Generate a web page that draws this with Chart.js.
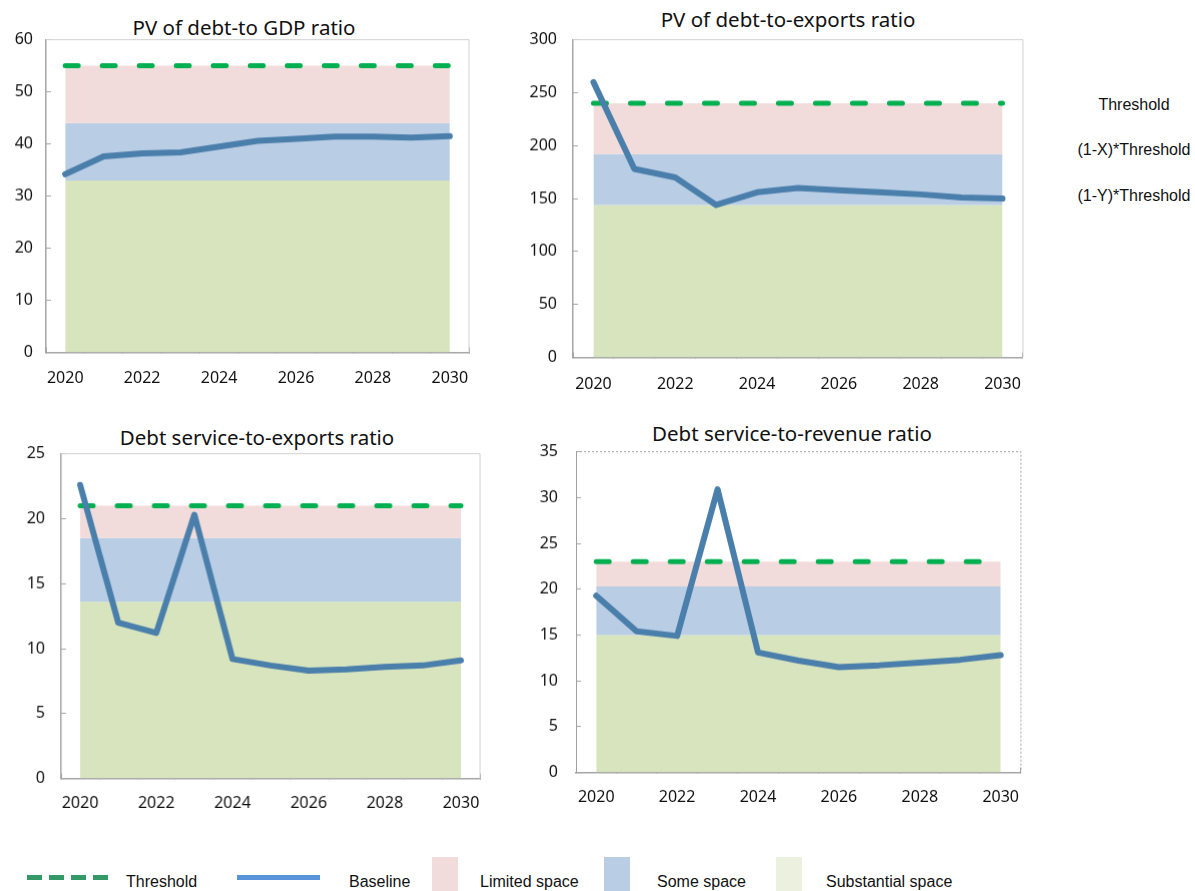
<!DOCTYPE html>
<html>
<head>
<meta charset="utf-8">
<script src="https://cdn.jsdelivr.net/npm/chart.js@4.4.0/dist/chart.umd.min.js"></script>
<style>
  body { margin: 0; background: #fff; }
  #wrap { position: relative; width: 1195px; height: 891px; overflow: hidden; background: #fff;
          font-family: "Liberation Sans", Arial, sans-serif; color: #111; }
  .panel { position: absolute; }
  .title { position: absolute; width: 400px; text-align: center; white-space: nowrap;
           font-family: "Noto Sans", "Open Sans", sans-serif; font-size: 20.5px; line-height: 24px; color: #111; }
  .side { position: absolute; width: 150px; text-align: center; font-size: 16px; line-height: 18px; }
  .lg { position: absolute; }
  .lgtext { position: absolute; font-size: 16px; line-height: 18px; white-space: nowrap; }
</style>
</head>
<body>
<div id="wrap"></div>
<script>
// years on the x axis
const years = ['2020', '2021', '2022', '2023', '2024', '2025', '2026', '2027', '2028', '2029', '2030'];

// baseline projections
const gdpBaseline = [34.2, 37.6, 38.2, 38.4, 39.5, 40.6, 41.0, 41.4, 41.4, 41.2, 41.5];
const exportsBaseline = [260, 178, 170, 144, 156, 160, 158, 156, 154, 151, 150];
const dsExportsBaseline = [22.6, 12.0, 11.2, 20.3, 9.2, 8.7, 8.3, 8.4, 8.6, 8.7, 9.1];
const dsRevenueBaseline = [19.3, 15.4, 14.9, 30.9, 13.1, 12.2, 11.5, 11.7, 12.0, 12.3, 12.8];

// threshold, (1-X)*threshold, (1-Y)*threshold
const gdpBands = [55, 44, 33];
const exportsBands = [240, 192, 144];
const dsExportsBands = [21, 18.5, 13.6];
const dsRevenueBands = [23, 20.3, 15];

// y axis ranges
const yMaxes = [60, 300, 25, 35];
const ySteps = [10, 50, 5, 5];

const titles = ['PV of debt-to GDP ratio', 'PV of debt-to-exports ratio',
                'Debt service-to-exports ratio', 'Debt service-to-revenue ratio'];

const colors = {
  limited: '#f2dcdb', some: '#b9cde5', substantial: '#d7e4bd',
  threshold: '#00b050', baseline: '#4a7eab'
};

const wrap = document.getElementById('wrap');
const font = '"Noto Sans", "Open Sans", sans-serif';

// draws the top and right edges of the plot box
const framePlugin = {
  id: 'frame',
  beforeDatasetsDraw(chart, args, opts) {
    const { ctx, chartArea: a } = chart;
    ctx.save();
    ctx.strokeStyle = opts.color;
    ctx.lineWidth = 1;
    ctx.setLineDash(opts.dash || []);
    ctx.beginPath();
    ctx.moveTo(a.left, a.top);
    ctx.lineTo(a.right, a.top);
    ctx.lineTo(a.right, a.bottom);
    ctx.stroke();
    ctx.restore();
  }
};

function makePanel(i, base, bands, box, dotted) {
  const yW = 50, padT = 4, pr = 4, xH = 45;
  let x0 = box.L - yW, y0 = box.T - 16;
  let W = box.R - x0 + 20;
  let H = box.B - y0 + xH;

  const t = document.createElement('div');
  t.className = 'title';
  t.textContent = titles[i];
  t.style.left = (box.tx - 200) + 'px';
  t.style.top = (box.ty - 12) + 'px';
  wrap.appendChild(t);

  const div = document.createElement('div');
  div.className = 'panel';
  const place = () => Object.assign(div.style, {
    left: x0 + 'px', top: y0 + 'px', width: W + 'px', height: H + 'px'
  });
  place();
  const canvas = document.createElement('canvas');
  div.appendChild(canvas);
  wrap.appendChild(div);

  const flat = v => years.map(() => v);
  const axisColor = '#a6a6a6';

  const chart = new Chart(canvas, {
    type: 'line',
    data: {
      labels: years,
      datasets: [
        { label: 'Substantial space', data: flat(bands[2]), fill: 'origin', backgroundColor: colors.substantial,
          borderWidth: 0, pointRadius: 0, order: 4 },
        { label: 'Some space', data: flat(bands[1]), fill: '-1', backgroundColor: colors.some,
          borderWidth: 0, pointRadius: 0, order: 3 },
        { label: 'Limited space', data: flat(bands[0]), fill: '-1', backgroundColor: colors.limited,
          borderWidth: 0, pointRadius: 0, order: 2 },
        { label: 'Threshold', data: flat(bands[0]), fill: false, borderColor: colors.threshold, borderWidth: 5,
          borderDash: [13, 24], borderCapStyle: 'round', pointRadius: 0, order: 1 },
        { label: 'Baseline', data: base, fill: false, borderColor: colors.baseline, borderWidth: 6,
          borderCapStyle: 'round', borderJoinStyle: 'round', pointRadius: 0, tension: 0, order: 0 }
      ]
    },
    options: {
      responsive: true,
      maintainAspectRatio: false,
      animation: false,
      layout: { padding: { left: 0, right: pr, top: padT, bottom: 0 } },
      plugins: {
        legend: { display: false },
        tooltip: { enabled: false },
        frame: { color: dotted ? '#a0a0a0' : '#d0d0d0', dash: dotted ? [2, 2] : [] }
      },
      scales: {
        x: {
          offset: true,
          grid: { offset: true, drawOnChartArea: false, tickLength: -5, color: axisColor },
          border: { color: axisColor, width: 1.5 },
          ticks: { autoSkip: false, maxRotation: 0, padding: box.xp, color: '#111',
                   font: { family: font, size: 16 },
                   callback: (v, k) => (k % 2 === 0 ? years[k] : '') },
          afterFit: s => { s.height = xH; }
        },
        y: {
          min: 0, max: yMaxes[i],
          grid: { drawOnChartArea: false, tickLength: -5, color: axisColor },
          border: { color: dotted ? '#a0a0a0' : axisColor, width: dotted ? 1 : 1.5, dash: dotted ? [2, 2] : [] },
          ticks: { stepSize: ySteps[i], padding: box.yp, color: '#111', font: { family: font, size: 16 } },
          afterFit: s => { s.width = yW; }
        }
      }
    },
    plugins: [framePlugin]
  });

  // shift and resize the canvas so the plot box lands where the reference has it
  const a = chart.chartArea;
  x0 += box.L - (x0 + a.left);
  y0 += box.T - (y0 + a.top);
  W += (box.R - box.L) - (a.right - a.left);
  H += (box.B - box.T) - (a.bottom - a.top);
  place();
  chart.resize(W, H);
}

makePanel(0, gdpBaseline, gdpBands,
  { L: 46, T: 40, R: 469, B: 352, tx: 244, ty: 27, xp: 21, yp: 18 }, false);
makePanel(1, exportsBaseline, exportsBands,
  { L: 573, T: 40, R: 1023, B: 357, tx: 788, ty: 19, xp: 22, yp: 21 }, false);
makePanel(2, dsExportsBaseline, dsExportsBands,
  { L: 61, T: 454, R: 479, B: 778, tx: 257, ty: 437, xp: 20, yp: 21 }, false);
makePanel(3, dsRevenueBaseline, dsRevenueBands,
  { L: 576, T: 452, R: 1021, B: 772, tx: 792, ty: 433, xp: 20, yp: 23 }, true);

// labels on the right of the top-right panel
const sideLabels = ['Threshold', '(1-X)*Threshold', '(1-Y)*Threshold'];
const sideY = [105, 150, 196];
sideLabels.forEach((t, k) => {
  const d = document.createElement('div');
  d.className = 'side';
  d.textContent = t;
  d.style.left = (1134 - 75) + 'px';
  d.style.top = (sideY[k] - 9) + 'px';
  wrap.appendChild(d);
});

// legend along the bottom
function addBox(x, y, w, h, bg) {
  const d = document.createElement('div');
  d.className = 'lg';
  Object.assign(d.style, { left: x + 'px', top: y + 'px', width: w + 'px', height: h + 'px', background: bg });
  wrap.appendChild(d);
}
function addText(x, t) {
  const d = document.createElement('div');
  d.className = 'lgtext';
  d.textContent = t;
  d.style.left = x + 'px';
  d.style.top = (882 - 9) + 'px';
  wrap.appendChild(d);
}
[27, 49, 71, 93].forEach(x => addBox(x, 875, 15, 5, '#339966'));
addText(126, 'Threshold');
addBox(237, 875, 83, 5, '#5894d8');
addText(349, 'Baseline');
addBox(432, 857, 26, 40, colors.limited);
addText(480, 'Limited space');
addBox(604, 857, 26, 40, colors.some);
addText(657, 'Some space');
addBox(776, 857, 26, 40, '#ebf1de');
addText(826, 'Substantial space');
</script>
</body>
</html>
